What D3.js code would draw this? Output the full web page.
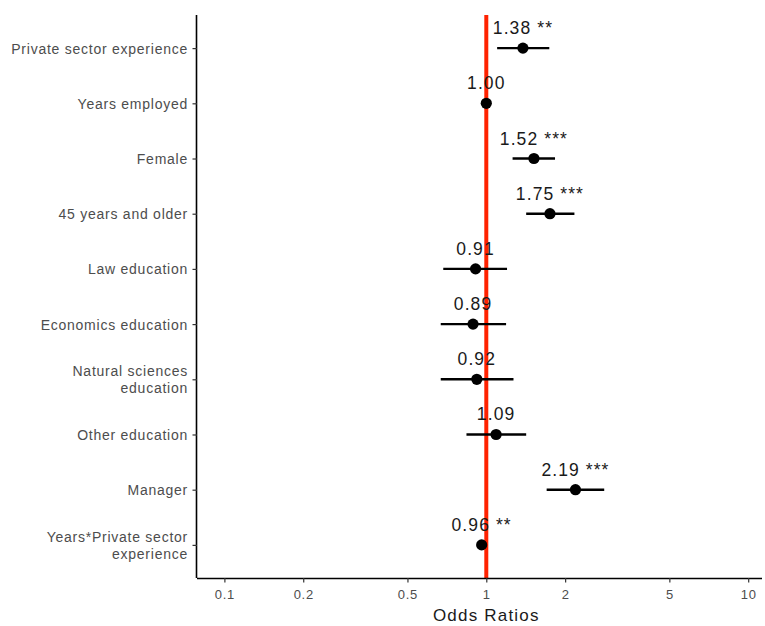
<!DOCTYPE html>
<html>
<head>
<meta charset="utf-8">
<script src="https://cdn.jsdelivr.net/npm/d3@7"></script>
<style>
  html, body { margin: 0; padding: 0; background: #fff; }
  svg { display: block; }
</style>
</head>
<body>
<svg id="chart" width="765" height="626"></svg>
<script>
// Odds ratios with 95% confidence intervals, one row per predictor
const categories = [
  "Private sector experience",
  "Years employed",
  "Female",
  "45 years and older",
  "Law education",
  "Economics education",
  "Natural sciences\neducation",
  "Other education",
  "Manager",
  "Years*Private sector\nexperience"
];
const estimates = [1.38, 1.00, 1.52, 1.75, 0.91, 0.89, 0.92, 1.09, 2.19, 0.96];
const ciLow     = [1.10, 0.99, 1.26, 1.42, 0.685, 0.67, 0.67, 0.84, 1.70, 0.95];
const ciHigh    = [1.74, 1.01, 1.83, 2.17, 1.20, 1.19, 1.27, 1.42, 2.82, 0.97];
const stars     = ["**", "", "***", "***", "", "", "", "", "***", "**"];
const xTicks    = [0.1, 0.2, 0.5, 1, 2, 5, 10];

const rows = categories.map((c, i) => ({
  cat: c, est: estimates[i], lo: ciLow[i], hi: ciHigh[i], sig: stars[i]
}));

const svg = d3.select("#chart");
const panel = { left: 197, right: 762, top: 15, bottom: 578 };

const x = d3.scaleLog()
  .domain([0.0786, 11.29])
  .range([panel.left, panel.right]);

const y = d3.scalePoint()
  .domain(categories)
  .range([panel.top, panel.bottom])
  .padding(0.6);

const font = "'Liberation Sans', Arial, Helvetica, sans-serif";

// Reference line at odds ratio = 1
svg.append("line")
  .attr("x1", x(1)).attr("x2", x(1))
  .attr("y1", panel.top).attr("y2", panel.bottom)
  .attr("stroke", "#ff2200")
  .attr("stroke-width", 4);

// Confidence interval whiskers
svg.append("g").selectAll("line")
  .data(rows)
  .join("line")
  .attr("x1", d => x(d.lo))
  .attr("x2", d => x(d.hi))
  .attr("y1", d => y(d.cat))
  .attr("y2", d => y(d.cat))
  .attr("stroke", "#000")
  .attr("stroke-width", 2.4);

// Point estimates
svg.append("g").selectAll("circle")
  .data(rows)
  .join("circle")
  .attr("cx", d => x(d.est))
  .attr("cy", d => y(d.cat))
  .attr("r", 5.6)
  .attr("fill", "#000");

// Value labels with significance stars
svg.append("g").selectAll("text")
  .data(rows)
  .join("text")
  .attr("x", d => x(d.est))
  .attr("y", d => y(d.cat) - 14)
  .attr("text-anchor", "middle")
  .attr("font-family", font)
  .attr("font-size", 17.5)
  .attr("letter-spacing", 1.1)
  .attr("fill", "#1a1a1a")
  .text(d => d.est.toFixed(2) + (d.sig ? " " + d.sig : ""));

// X axis
const xAxis = svg.append("g")
  .attr("transform", `translate(0,${panel.bottom})`)
  .call(d3.axisBottom(x).tickValues(xTicks).tickFormat(d3.format("")).tickSize(4.5).tickSizeOuter(0));
xAxis.select(".domain").attr("stroke", "#000").attr("stroke-width", 1.6)
  .attr("d", `M${panel.left},0.5H${panel.right}`);
xAxis.selectAll(".tick line").attr("stroke", "#333").attr("stroke-width", 1.2);
xAxis.selectAll(".tick text")
  .attr("font-family", font).attr("font-size", 13).attr("fill", "#4d4d4d")
  .attr("letter-spacing", 0.7)
  .attr("dy", "1.05em");

// Y axis
const yAxis = svg.append("g")
  .attr("transform", `translate(${panel.left},0)`)
  .call(d3.axisLeft(y).tickSize(4.5).tickSizeOuter(0).tickFormat(""));
yAxis.select(".domain").attr("stroke", "#000").attr("stroke-width", 1.6)
  .attr("d", `M-0.5,${panel.top}V${panel.bottom}`);
yAxis.selectAll(".tick line").attr("stroke", "#333").attr("stroke-width", 1.2);

// Category labels, wrapped onto two lines where needed
const lineH = 16.5;
yAxis.selectAll(".tick").each(function(d) {
  const lines = d.split("\n");
  const t = d3.select(this).append("text")
    .attr("text-anchor", "end")
    .attr("font-family", font)
    .attr("font-size", 14)
    .attr("letter-spacing", 0.75)
    .attr("fill", "#4d4d4d");
  lines.forEach((ln, i) => {
    t.append("tspan")
      .attr("x", -9)
      .attr("y", (i - (lines.length - 1) / 2) * lineH)
      .attr("dy", "0.35em")
      .text(ln);
  });
});

// Axis title
svg.append("text")
  .attr("x", x(1))
  .attr("y", 621)
  .attr("text-anchor", "middle")
  .attr("font-family", font)
  .attr("font-size", 17)
  .attr("letter-spacing", 1.2)
  .attr("fill", "#1a1a1a")
  .text("Odds Ratios");
</script>
</body>
</html>
